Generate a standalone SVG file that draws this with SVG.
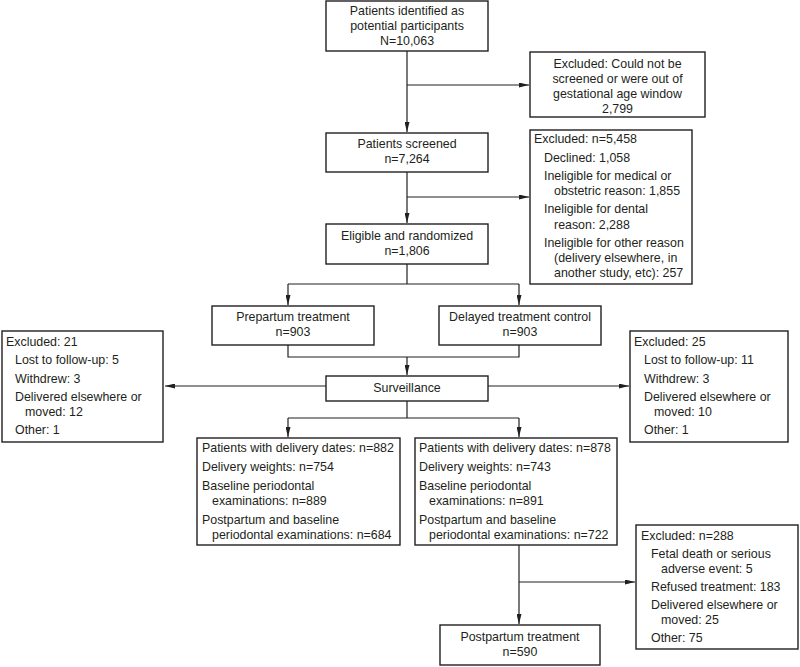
<svg xmlns="http://www.w3.org/2000/svg" width="800" height="667" viewBox="0 0 800 667">
<defs>
<marker id="ah" markerUnits="userSpaceOnUse" markerWidth="10" markerHeight="5" refX="10" refY="2.5" orient="auto">
<path d="M0,0 L10,2.5 L0,5 z" fill="#231f20"/>
</marker>
<style>
.box{fill:#fff;stroke:#231f20;stroke-width:1.4}
.ln{fill:none;stroke:#231f20;stroke-width:1.2}
.ar{fill:none;stroke:#231f20;stroke-width:1.2;marker-end:url(#ah)}
text{font-family:"Liberation Sans",Arial,sans-serif;font-size:12.4px;fill:#231f20}
.c{text-anchor:middle}
</style>
</defs>
<rect width="800" height="667" fill="#fff"/>
<g id="connectors">
<path class="ln" d="M407,51 V85"/>
<path class="ar" d="M407,85 V132"/>
<path class="ar" d="M407,85 H529"/>
<path class="ln" d="M407,172 V197"/>
<path class="ar" d="M407,197 V223"/>
<path class="ar" d="M407,197 H529"/>
<path class="ln" d="M407,264 V284 M288,284 H519"/>
<path class="ar" d="M288,284 V305"/>
<path class="ar" d="M519,284 V305"/>
<path class="ln" d="M288,345 V357 H519 V345"/>
<path class="ar" d="M407,357 V375"/>
<path class="ar" d="M326,386 H165"/>
<path class="ar" d="M488,386 H629"/>
<path class="ln" d="M407,401 V418 M288,418 H519"/>
<path class="ar" d="M288,418 V437"/>
<path class="ar" d="M519,418 V437"/>
<path class="ln" d="M519,545 V582"/>
<path class="ar" d="M519,582 V624"/>
<path class="ar" d="M519,582 H635"/>
</g>
<g id="identified">
<rect class="box" x="326" y="1" width="162" height="50"/>
<text class="c" x="407" y="15">Patients identified as</text>
<text class="c" x="407" y="30">potential participants</text>
<text class="c" x="407" y="45">N=10,063</text>
</g>
<g id="excluded1">
<rect class="box" x="530" y="52" width="175" height="65"/>
<text class="c" x="617.5" y="68">Excluded: Could not be</text>
<text class="c" x="617.5" y="83">screened or were out of</text>
<text class="c" x="617.5" y="98">gestational age window</text>
<text class="c" x="617.5" y="113">2,799</text>
</g>
<g id="screened">
<rect class="box" x="326" y="133" width="162" height="39"/>
<text class="c" x="407" y="148">Patients screened</text>
<text class="c" x="407" y="163">n=7,264</text>
</g>
<g id="excluded2">
<rect class="box" x="530" y="130" width="162" height="154"/>
<text x="534" y="143">Excluded: n=5,458</text>
<text x="544" y="162">Declined: 1,058</text>
<text x="544" y="180">Ineligible for medical or</text>
<text x="554" y="195">obstetric reason: 1,855</text>
<text x="544" y="213">Ineligible for dental</text>
<text x="554" y="229">reason: 2,288</text>
<text x="544" y="247">Ineligible for other reason</text>
<text x="554" y="262">(delivery elsewhere, in</text>
<text x="554" y="277">another study, etc): 257</text>
</g>
<g id="eligible">
<rect class="box" x="326" y="224" width="162" height="40"/>
<text class="c" x="407" y="240">Eligible and randomized</text>
<text class="c" x="407" y="255">n=1,806</text>
</g>
<g id="prepartum">
<rect class="box" x="212" y="306" width="162" height="39"/>
<text class="c" x="293" y="321">Prepartum treatment</text>
<text class="c" x="293" y="336">n=903</text>
</g>
<g id="delayed">
<rect class="box" x="439" y="306" width="162" height="39"/>
<text class="c" x="520" y="321">Delayed treatment control</text>
<text class="c" x="520" y="336">n=903</text>
</g>
<g id="surveillance">
<rect class="box" x="326" y="376" width="162" height="25"/>
<text class="c" x="407" y="392">Surveillance</text>
</g>
<g id="excludedLeft">
<rect class="box" x="2" y="331" width="161" height="111"/>
<text x="6" y="346">Excluded: 21</text>
<text x="15" y="364">Lost to follow-up: 5</text>
<text x="15" y="383">Withdrew: 3</text>
<text x="15" y="401">Delivered elsewhere or</text>
<text x="25" y="416">moved: 12</text>
<text x="15" y="434">Other: 1</text>
</g>
<g id="excludedRight">
<rect class="box" x="630" y="331" width="158" height="111"/>
<text x="634" y="346">Excluded: 25</text>
<text x="644" y="364">Lost to follow-up: 11</text>
<text x="644" y="383">Withdrew: 3</text>
<text x="644" y="401">Delivered elsewhere or</text>
<text x="654" y="416">moved: 10</text>
<text x="644" y="434">Other: 1</text>
</g>
<g id="outcomesLeft">
<rect class="box" x="197" y="438" width="203" height="107"/>
<text x="202" y="452">Patients with delivery dates: n=882</text>
<text x="202" y="471">Delivery weights: n=754</text>
<text x="202" y="490">Baseline periodontal</text>
<text x="212" y="505">examinations: n=889</text>
<text x="202" y="524">Postpartum and baseline</text>
<text x="212" y="539">periodontal examinations: n=684</text>
</g>
<g id="outcomesRight">
<rect class="box" x="415" y="438" width="202" height="107"/>
<text x="419" y="452">Patients with delivery dates: n=878</text>
<text x="419" y="471">Delivery weights: n=743</text>
<text x="419" y="490">Baseline periodontal</text>
<text x="429" y="505">examinations: n=891</text>
<text x="419" y="524">Postpartum and baseline</text>
<text x="429" y="539">periodontal examinations: n=722</text>
</g>
<g id="excluded3">
<rect class="box" x="636" y="525" width="162" height="124"/>
<text x="641" y="540">Excluded: n=288</text>
<text x="651" y="558">Fetal death or serious</text>
<text x="661" y="573">adverse event: 5</text>
<text x="651" y="591">Refused treatment: 183</text>
<text x="651" y="609">Delivered elsewhere or</text>
<text x="661" y="624">moved: 25</text>
<text x="651" y="642">Other: 75</text>
</g>
<g id="postpartum">
<rect class="box" x="440" y="625" width="160" height="40"/>
<text class="c" x="520" y="641">Postpartum treatment</text>
<text class="c" x="520" y="656">n=590</text>
</g>
</svg>
